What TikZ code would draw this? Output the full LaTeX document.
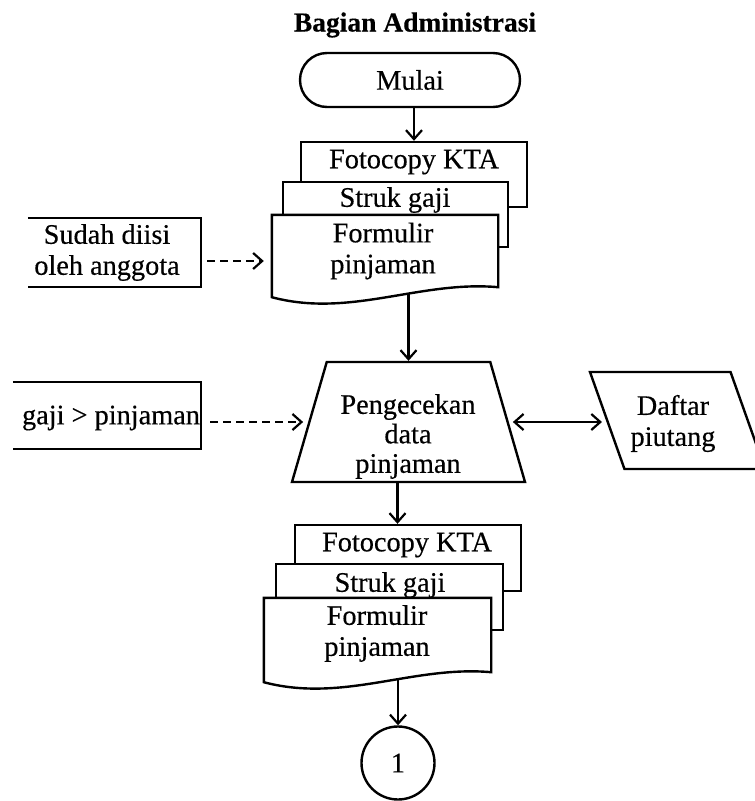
\documentclass[tikz,border=0pt]{standalone}
\usepackage{fontspec}
\setmainfont{Liberation Serif}[FakeBold=0.4]
\usetikzlibrary{arrows.meta,shapes.geometric,shapes.misc,calc,backgrounds}

% document symbol: straight top and sides, wavy bottom edge
\newcommand\docoutline[1]{%
  \path[outline] (#1.north west) -- (#1.north east) -- ($(#1.south east)+(0,-10)$)
    .. controls ($(#1.south east)+(-78,-17)$) and ($(#1.south east)+(-148,21)$) .. (#1.south west) -- cycle;}
% box open on its left side
\newcommand\openbox[1]{%
  \draw[line width=2.4pt] (#1.north west) -- (#1.north east) -- (#1.south east) -- (#1.south west);}

\begin{document}
\begin{tikzpicture}[x=1pt,y=-1pt,
  every node/.style={font=\fontsize{28.3}{31}\selectfont, inner sep=0pt},
  outline/.style={draw, line width=2.4pt, fill=white},
  txt/.style={align=center},
  flow/.style={line width=2.2pt, -{Straight Barb[length=9pt,width=16pt]}},
  dflow/.style={flow, dash pattern=on 8pt off 5pt},
  bflow/.style={line width=2.2pt, {Straight Barb[length=9pt,width=16pt]}-{Straight Barb[length=9pt,width=16pt]}}]
\useasboundingbox (0,0) rectangle (755,801);

% heading and start
\node[font=\fontsize{27.5}{31}\selectfont\bfseries] (title) at (415,25) {Bagian Administrasi};
\node[rounded rectangle, outline, minimum width=220, minimum height=54] (mulai) at (410,80) {Mulai};

% incoming documents
\node[outline, minimum width=226, minimum height=65] (a1) at (414,174.5) {};
\node (a1t) at (414,162) {Fotocopy KTA};
\node[outline, minimum width=225, minimum height=65] (a2) at (395.5,214.5) {};
\node (a2t) at (395,200) {Struk gaji};
\node[minimum width=226, minimum height=82] (a3) at (385,256) {};
\docoutline{a3}
\node[txt] (a3t) at (383,251) {Formulir\\pinjaman};

% note on the left
\node[minimum width=173, minimum height=69] (sudah) at (114.5,252.5) {};
\openbox{sudah}
\node[txt] (sudaht) at (107,252.5) {Sudah diisi\\oleh anggota};

% manual check
\node[trapezium, outline, inner sep=2pt, trapezium left angle=78, trapezium right angle=78,
      trapezium stretches=true, minimum width=233, minimum height=120] (trap) at (408.5,422) {};
\node[txt, font=\fontsize{28.3}{29.5}\selectfont] (trapt) at (408,436.5) {Pengecekan\\data\\pinjaman};

\node[minimum width=188, minimum height=67] (gaji) at (107,415.5) {};
\openbox{gaji}
\node (gajit) at (111,418) {gaji > pinjaman};

% receivables list
\node[trapezium, outline, inner sep=2pt, trapezium left angle=108, trapezium right angle=72,
      trapezium stretches=true, minimum width=175, minimum height=97] (daftar) at (677.5,420.5) {};
\node[txt] (daftart) at (673,423.5) {Daftar\\piutang};

% checked documents
\node[outline, minimum width=226, minimum height=66] (b1) at (408,558) {};
\node (b1t) at (407,545) {Fotocopy KTA};
\node[outline, minimum width=227, minimum height=66] (b2) at (389.5,597) {};
\node (b2t) at (390,585) {Struk gaji};
\node[minimum width=227, minimum height=84] (b3) at (377.5,640) {};
\docoutline{b3}
\node[txt] (b3t) at (377,633.5) {Formulir\\pinjaman};

% off-page connector
\node[circle, draw, line width=2.4pt, minimum size=73] (c1) at (398,763) {1};

% connectors
\begin{scope}[on background layer]
  \draw[flow] (a1.north |- mulai.south) -- (a1.north);
  \draw[flow] (trap.north |- a3.center) -- (trap.north);
  \draw[flow] ([xshift=-11pt]trap.south) -- ([xshift=-11pt]trap.south |- b1.north);
  \draw[flow] (c1.north |- b3.center) -- (c1.north);
\end{scope}
\draw[dflow, shorten <=6pt, shorten >=8pt] ($(a3.west -| sudah.east)+(0,5)$) -- ($(a3.west)+(0,5)$);
\draw[dflow, shorten <=9pt, shorten >=5pt] (trap.west -| gaji.east) -- (trap.west);
\draw[bflow, shorten <=4pt, shorten >=4pt] (trap.east) -- (trap.east -| daftar.west);
\end{tikzpicture}
\end{document}
